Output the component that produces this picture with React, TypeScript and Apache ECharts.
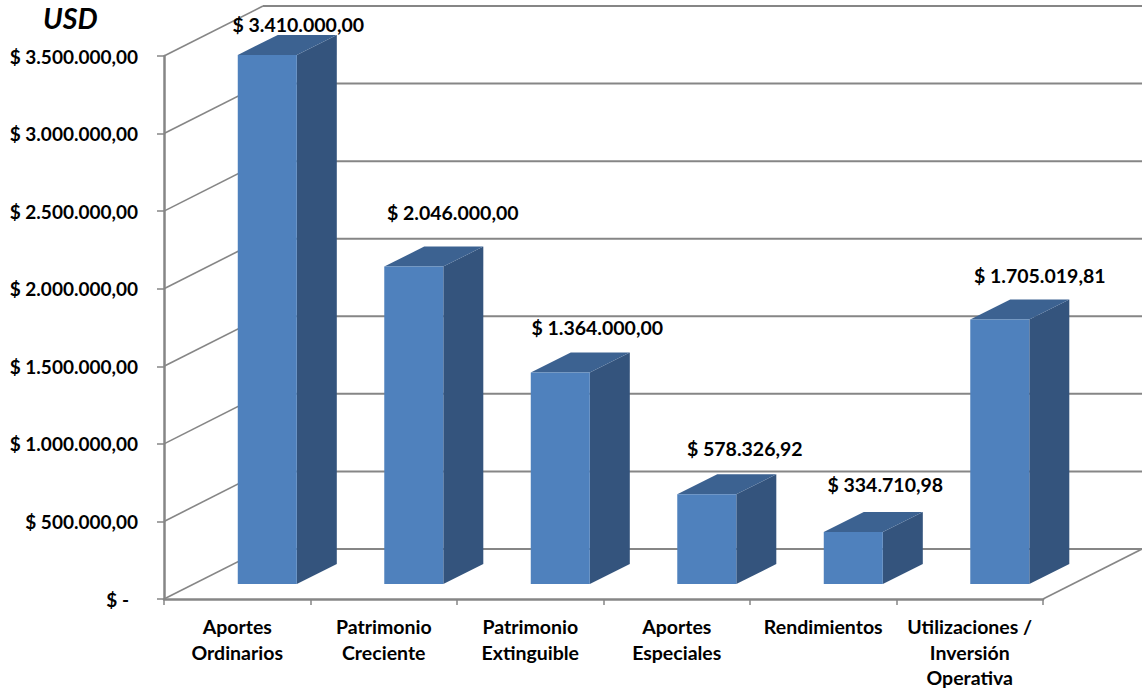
import React, { useEffect, useRef } from "react";
import * as echarts from "echarts";

const categories = [
  "Aportes\nOrdinarios",
  "Patrimonio\nCreciente",
  "Patrimonio\nExtinguible",
  "Aportes\nEspeciales",
  "Rendimientos",
  "Utilizaciones /\nInversión\nOperativa",
];
const values = [3410000, 2046000, 1364000, 578326.92, 334710.98, 1705019.81];
const valueLabels = [
  "$ 3.410.000,00",
  "$ 2.046.000,00",
  "$ 1.364.000,00",
  "$ 578.326,92",
  "$ 334.710,98",
  "$ 1.705.019,81",
];
const labelShiftX = [31, 39, 37, 38, 32, 40];
const labelShiftY = [-30, -54, -45, -46, -48, -44];
const gridValues = [0, 500000, 1000000, 1500000, 2000000, 2500000, 3000000, 3500000];
const tickLabels = [
  "$ -",
  "$ 500.000,00",
  "$ 1.000.000,00",
  "$ 1.500.000,00",
  "$ 2.000.000,00",
  "$ 2.500.000,00",
  "$ 3.000.000,00",
  "$ 3.500.000,00",
];

const FONT = "Lato";
const GRID = "#868686";
const WALL_DX = 99;
const WALL_DY = -50;
const BAR_DX = 40;
const BAR_DY = -20;

export default function App() {
  const ref = useRef<HTMLDivElement>(null);
  useEffect(() => {
    document.body.style.margin = "0";
    const chart = echarts.init(ref.current!, null, { renderer: "svg" });
    chart.setOption({
      animation: false,
      backgroundColor: "#fff",
      textStyle: { fontFamily: FONT },
      title: {
        text: "USD",
        left: 38,
        top: -2,
        textStyle: { fontFamily: FONT, fontSize: 28.5, fontWeight: "bold", fontStyle: "italic", color: "#000" },
      },
      grid: { left: 164, top: 56, width: 879, height: 543 },
      xAxis: {
        type: "category",
        data: categories,
        axisLine: { lineStyle: { color: GRID, width: 2.5 } },
        axisTick: { show: true, alignWithLabel: false, length: 6, lineStyle: { color: GRID, width: 1.5 } },
        axisLabel: { color: "#000", fontFamily: FONT, fontWeight: "bold", fontSize: 19.5, lineHeight: 25.5, margin: 15, interval: 0 },
      },
      yAxis: {
        type: "value",
        min: 0,
        max: 3500000,
        interval: 500000,
        splitLine: { show: false },
        axisLine: { show: true, lineStyle: { color: GRID, width: 2.5 } },
        axisTick: { show: true, length: 7, lineStyle: { color: GRID, width: 1.5 } },
        axisLabel: {
          color: "#000",
          fontFamily: FONT,
          fontWeight: "bold",
          fontSize: 19,
          margin: 26,
          formatter: (v: number) => {
            const t = tickLabels[gridValues.indexOf(v)];
            return v === 0 ? `{z|${t}}` : t;
          },
          rich: {
            z: { color: "#000", fontFamily: FONT, fontWeight: "bold", fontSize: 19, padding: [0, 9, 0, 0] },
          },
        },
      },
      series: [
        {
          type: "custom",
          name: "wall",
          z: 1,
          silent: true,
          data: gridValues.map((v) => [0, v]),
          encode: { x: 0, y: 1 },
          renderItem: (params: any, api: any) => {
            const v = api.value(1);
            const y = api.coord([0, v])[1];
            const cs = params.coordSys;
            const children: any[] = [
              {
                type: "line",
                shape: { x1: cs.x, y1: y, x2: cs.x + WALL_DX, y2: y + WALL_DY },
                style: { stroke: GRID, lineWidth: 1.6 },
              },
              {
                type: "line",
                shape: { x1: cs.x + WALL_DX, y1: y + WALL_DY, x2: cs.x + cs.width + WALL_DX, y2: y + WALL_DY },
                style: { stroke: GRID, lineWidth: 2 },
              },
            ];
            if (v === 0) {
              children.push({
                type: "line",
                shape: { x1: cs.x + cs.width, y1: y, x2: cs.x + cs.width + WALL_DX, y2: y + WALL_DY },
                style: { stroke: GRID, lineWidth: 1.6 },
              });
            }
            return { type: "group", children };
          },
        },
        {
          type: "custom",
          name: "bars",
          z: 3,
          data: values.map((v, i) => [i, v]),
          encode: { x: 0, y: 1 },
          renderItem: (params: any, api: any) => {
            const i = api.value(0);
            const top = api.coord([i, api.value(1)]);
            const base = api.coord([i, 0]);
            const w = api.size([1, 0])[0] * 0.403;
            const shiftX = api.size([1, 0])[0] * 0.205;
            const x0 = top[0] + shiftX - w / 2;
            const x1 = x0 + w;
            const yb = base[1] - 15;
            const yt = top[1] - 15;
            return {
              type: "group",
              children: [
                {
                  type: "polygon",
                  shape: { points: [[x1, yt], [x1 + BAR_DX, yt + BAR_DY], [x1 + BAR_DX, yb + BAR_DY], [x1, yb]] },
                  style: { fill: "#34547D" },
                },
                {
                  type: "polygon",
                  shape: { points: [[x0, yt], [x0 + BAR_DX, yt + BAR_DY], [x1 + BAR_DX, yt + BAR_DY], [x1, yt]] },
                  style: { fill: "#3C6291" },
                },
                {
                  type: "rect",
                  shape: { x: x0, y: yt, width: w, height: yb - yt },
                  style: { fill: "#4F81BD" },
                },
                {
                  type: "text",
                  style: {
                    text: valueLabels[params.dataIndex],
                    x: (x0 + x1) / 2 + labelShiftX[params.dataIndex],
                    y: yt + labelShiftY[params.dataIndex],
                    align: "center",
                    verticalAlign: "middle",
                    fontFamily: FONT,
                    fontWeight: "bold",
                    fontSize: 19.5,
                    fill: "#000",
                  },
                },
              ],
            };
          },
        },
      ],
    });
    return () => chart.dispose();
  }, []);
  return <div ref={ref} style={{ width: 1142, height: 692 }} />;
}
